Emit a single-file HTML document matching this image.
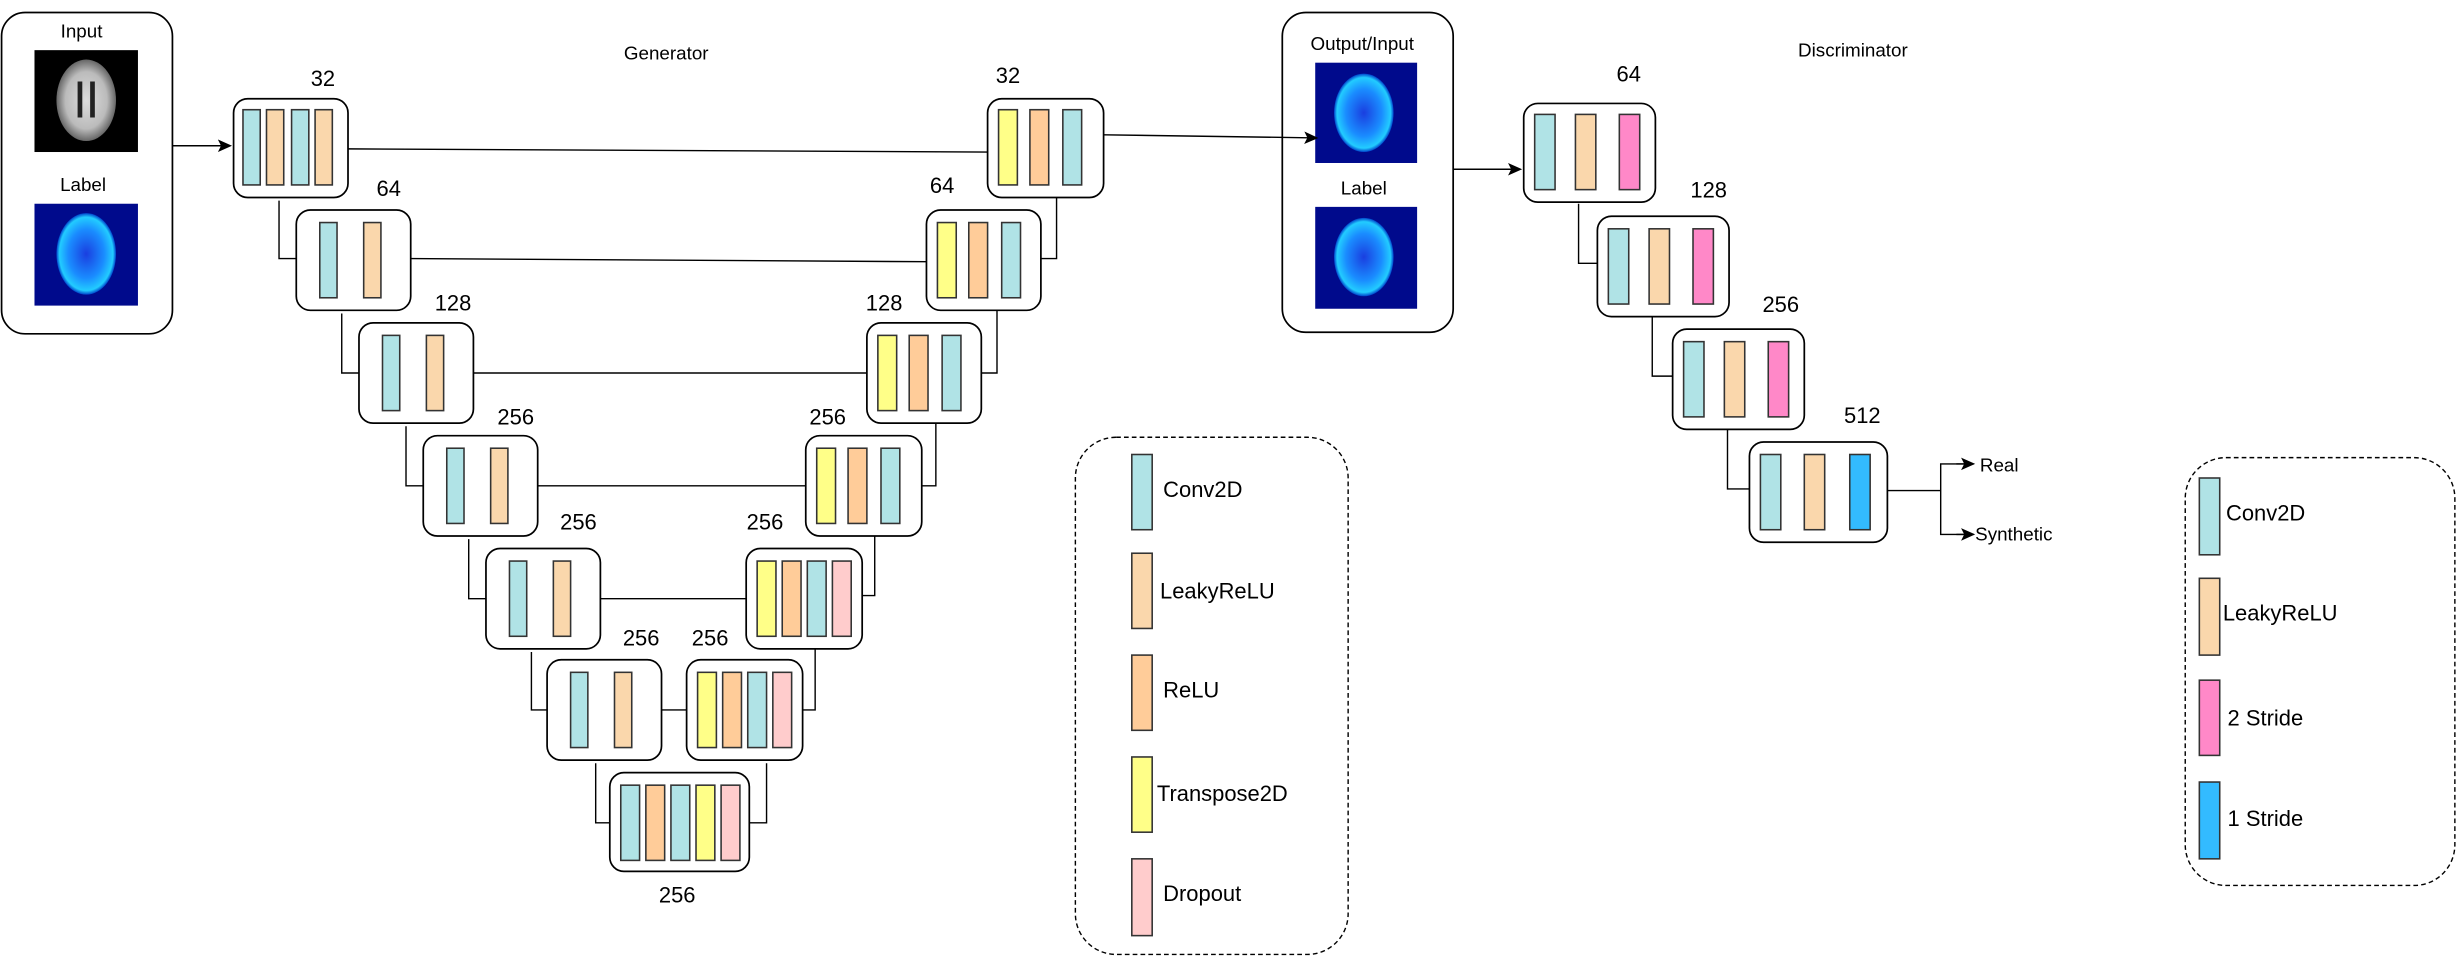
<!DOCTYPE html>
<html><head><meta charset="utf-8"><style>
html,body{margin:0;padding:0;background:#fff;}
svg{display:block;}
text{font-family:"Liberation Sans",Arial,sans-serif;fill:#000;}
.bx{fill:#fff;stroke:#000;stroke-width:1.1;}
.ln{fill:none;stroke:#000;stroke-width:0.9;}
.b{stroke:#333;stroke-width:1;}
.t{fill:#b0e3e6}.p{fill:#fad7ac}.o{fill:#ffcc99}.y{fill:#ffff88}.d{fill:#ffcccc}.k{fill:#ff88c8}.s{fill:#33bbff}
</style></head><body>
<svg width="2458" height="956" viewBox="0 0 1568 610" preserveAspectRatio="none">
<defs>
<radialGradient id="gw" cx="50%" cy="50%" r="50%"><stop offset="0" stop-color="#ddd"/><stop offset="0.7" stop-color="#bbb"/><stop offset="1" stop-color="#666"/></radialGradient>
<radialGradient id="gb" cx="50%" cy="50%" r="50%"><stop offset="0" stop-color="#1a3fe0"/><stop offset="0.6" stop-color="#1a8cff"/><stop offset="0.9" stop-color="#22ccff"/><stop offset="1" stop-color="#0044cc"/></radialGradient>
<marker id="ar" markerWidth="10" markerHeight="10" refX="8" refY="4" orient="auto" markerUnits="userSpaceOnUse"><path d="M0,0 L9,4 L0,8 L2,4 Z" fill="#000"/></marker>
</defs>

<!-- Input box -->
<rect class="bx" x="1" y="8" width="109" height="205" rx="15"/>
<text x="52" y="24" font-size="12" text-anchor="middle">Input</text>
<rect x="22" y="32" width="66" height="65" fill="#000"/>
<ellipse cx="55" cy="64" rx="19" ry="26" fill="url(#gw)"/>
<path d="M51,52 L51,75 M59,52 L59,75" stroke="#222" stroke-width="3"/>
<text x="53" y="122" font-size="12" text-anchor="middle">Label</text>
<rect x="22" y="130" width="66" height="65" fill="#000a8c"/>
<ellipse cx="55" cy="162" rx="19" ry="26" fill="url(#gb)"/>
<line class="ln" x1="110" y1="93" x2="147" y2="93" marker-end="url(#ar)"/>

<text x="425" y="38" font-size="12" text-anchor="middle">Generator</text>
<text x="1182" y="36" font-size="12" text-anchor="middle">Discriminator</text>

<!-- skip lines -->
<line class="ln" x1="222" y1="95" x2="630" y2="97"/>
<line class="ln" x1="262" y1="165" x2="591" y2="167"/>
<line class="ln" x1="302" y1="238" x2="553" y2="238"/>
<line class="ln" x1="343" y1="310" x2="514" y2="310"/>
<line class="ln" x1="383" y1="382" x2="476" y2="382"/>
<line class="ln" x1="422" y1="453" x2="438" y2="453"/>
<!-- encoder elbows -->
<path class="ln" d="M178,128 V165 H189"/>
<path class="ln" d="M218,200 V238 H229"/>
<path class="ln" d="M259,272 V310 H270"/>
<path class="ln" d="M299,344 V382 H310"/>
<path class="ln" d="M339,416 V453 H349"/>
<path class="ln" d="M380,487 V525 H389"/>
<!-- decoder elbows -->
<path class="ln" d="M664,165 H674 V126"/>
<path class="ln" d="M626,238 H636 V198"/>
<path class="ln" d="M588,310 H597 V270"/>
<path class="ln" d="M550,380 H558 V342"/>
<path class="ln" d="M512,453 H520 V414"/>
<path class="ln" d="M478,525 H489 V487"/>

<!-- Encoder -->
<rect class="bx" x="149" y="63" width="73" height="63" rx="9"/>
<rect class="b t" x="155" y="70" width="11" height="48"/><rect class="b p" x="170" y="70" width="11" height="48"/><rect class="b t" x="186" y="70" width="11" height="48"/><rect class="b p" x="201" y="70" width="11" height="48"/>
<text x="206" y="55" font-size="14" text-anchor="middle">32</text>

<rect class="bx" x="189" y="134" width="73" height="64" rx="9"/>
<rect class="b t" x="204" y="142" width="11" height="48"/><rect class="b p" x="232" y="142" width="11" height="48"/>
<text x="248" y="125" font-size="14" text-anchor="middle">64</text>

<rect class="bx" x="229" y="206" width="73" height="64" rx="9"/>
<rect class="b t" x="244" y="214" width="11" height="48"/><rect class="b p" x="272" y="214" width="11" height="48"/>
<text x="289" y="198" font-size="14" text-anchor="middle">128</text>

<rect class="bx" x="270" y="278" width="73" height="64" rx="9"/>
<rect class="b t" x="285" y="286" width="11" height="48"/><rect class="b p" x="313" y="286" width="11" height="48"/>
<text x="329" y="271" font-size="14" text-anchor="middle">256</text>

<rect class="bx" x="310" y="350" width="73" height="64" rx="9"/>
<rect class="b t" x="325" y="358" width="11" height="48"/><rect class="b p" x="353" y="358" width="11" height="48"/>
<text x="369" y="338" font-size="14" text-anchor="middle">256</text>

<rect class="bx" x="349" y="421" width="73" height="64" rx="9"/>
<rect class="b t" x="364" y="429" width="11" height="48"/><rect class="b p" x="392" y="429" width="11" height="48"/>
<text x="409" y="412" font-size="14" text-anchor="middle">256</text>

<!-- bottleneck -->
<rect class="bx" x="389" y="493" width="89" height="63" rx="9"/>
<rect class="b t" x="396" y="501" width="12" height="48"/><rect class="b o" x="412" y="501" width="12" height="48"/><rect class="b t" x="428" y="501" width="12" height="48"/><rect class="b y" x="444" y="501" width="12" height="48"/><rect class="b d" x="460" y="501" width="12" height="48"/>
<text x="432" y="576" font-size="14" text-anchor="middle">256</text>

<!-- Decoder -->
<rect class="bx" x="630" y="63" width="74" height="63" rx="9"/>
<rect class="b y" x="637" y="70" width="12" height="48"/><rect class="b o" x="657" y="70" width="12" height="48"/><rect class="b t" x="678" y="70" width="12" height="48"/>
<text x="643" y="53" font-size="14" text-anchor="middle">32</text>

<rect class="bx" x="591" y="134" width="73" height="64" rx="9"/>
<rect class="b y" x="598" y="142" width="12" height="48"/><rect class="b o" x="618" y="142" width="12" height="48"/><rect class="b t" x="639" y="142" width="12" height="48"/>
<text x="601" y="123" font-size="14" text-anchor="middle">64</text>

<rect class="bx" x="553" y="206" width="73" height="64" rx="9"/>
<rect class="b y" x="560" y="214" width="12" height="48"/><rect class="b o" x="580" y="214" width="12" height="48"/><rect class="b t" x="601" y="214" width="12" height="48"/>
<text x="564" y="198" font-size="14" text-anchor="middle">128</text>

<rect class="bx" x="514" y="278" width="74" height="64" rx="9"/>
<rect class="b y" x="521" y="286" width="12" height="48"/><rect class="b o" x="541" y="286" width="12" height="48"/><rect class="b t" x="562" y="286" width="12" height="48"/>
<text x="528" y="271" font-size="14" text-anchor="middle">256</text>

<rect class="bx" x="476" y="350" width="74" height="64" rx="9"/>
<rect class="b y" x="483" y="358" width="12" height="48"/><rect class="b o" x="499" y="358" width="12" height="48"/><rect class="b t" x="515" y="358" width="12" height="48"/><rect class="b d" x="531" y="358" width="12" height="48"/>
<text x="488" y="338" font-size="14" text-anchor="middle">256</text>

<rect class="bx" x="438" y="421" width="74" height="64" rx="9"/>
<rect class="b y" x="445" y="429" width="12" height="48"/><rect class="b o" x="461" y="429" width="12" height="48"/><rect class="b t" x="477" y="429" width="12" height="48"/><rect class="b d" x="493" y="429" width="12" height="48"/>
<text x="453" y="412" font-size="14" text-anchor="middle">256</text>

<!-- Legend 1 -->
<rect x="686" y="279" width="174" height="330" rx="26" fill="none" stroke="#000" stroke-width="0.9" stroke-dasharray="3,2"/>
<rect class="b t" x="722" y="290" width="13" height="48"/><text x="742" y="317" font-size="14">Conv2D</text>
<rect class="b p" x="722" y="353" width="13" height="48"/><text x="740" y="382" font-size="14">LeakyReLU</text>
<rect class="b o" x="722" y="418" width="13" height="48"/><text x="742" y="445" font-size="14">ReLU</text>
<rect class="b y" x="722" y="483" width="13" height="48"/><text x="738" y="511" font-size="14">Transpose2D</text>
<rect class="b d" x="722" y="548" width="13" height="49"/><text x="742" y="575" font-size="14">Dropout</text>

<!-- Output/Input -->
<rect class="bx" x="818" y="8" width="109" height="204" rx="15"/>
<text x="869" y="32" font-size="12" text-anchor="middle">Output/Input</text>
<rect x="839" y="40" width="65" height="64" fill="#000a8c"/>
<ellipse cx="870" cy="72" rx="19" ry="25" fill="url(#gb)"/>
<text x="870" y="124" font-size="12" text-anchor="middle">Label</text>
<rect x="839" y="132" width="65" height="65" fill="#000a8c"/>
<ellipse cx="870" cy="164" rx="19" ry="25" fill="url(#gb)"/>
<line class="ln" x1="704" y1="86" x2="840" y2="88" marker-end="url(#ar)"/>
<line class="ln" x1="927" y1="108" x2="970" y2="108" marker-end="url(#ar)"/>

<!-- Discriminator -->
<path class="ln" d="M1007,130 V168 H1019"/>
<path class="ln" d="M1054,202 V240 H1067"/>
<path class="ln" d="M1102,274 V312 H1116"/>
<rect class="bx" x="972" y="66" width="84" height="63" rx="9"/>
<rect class="b t" x="979" y="73" width="13" height="48"/><rect class="b p" x="1005" y="73" width="13" height="48"/><rect class="b k" x="1033" y="73" width="13" height="48"/>
<text x="1039" y="52" font-size="14" text-anchor="middle">64</text>
<rect class="bx" x="1019" y="138" width="84" height="64" rx="9"/>
<rect class="b t" x="1026" y="146" width="13" height="48"/><rect class="b p" x="1052" y="146" width="13" height="48"/><rect class="b k" x="1080" y="146" width="13" height="48"/>
<text x="1090" y="126" font-size="14" text-anchor="middle">128</text>
<rect class="bx" x="1067" y="210" width="84" height="64" rx="9"/>
<rect class="b t" x="1074" y="218" width="13" height="48"/><rect class="b p" x="1100" y="218" width="13" height="48"/><rect class="b k" x="1128" y="218" width="13" height="48"/>
<text x="1136" y="199" font-size="14" text-anchor="middle">256</text>
<rect class="bx" x="1116" y="282" width="88" height="64" rx="9"/>
<rect class="b t" x="1123" y="290" width="13" height="48"/><rect class="b p" x="1151" y="290" width="13" height="48"/><rect class="b s" x="1180" y="290" width="13" height="48"/>
<text x="1188" y="270" font-size="14" text-anchor="middle">512</text>
<path class="ln" d="M1204,313 H1238"/>
<path class="ln" d="M1257,296 H1238 V341 H1257"/>
<line class="ln" x1="1248" y1="296" x2="1259" y2="296" marker-end="url(#ar)"/>
<line class="ln" x1="1248" y1="341" x2="1259" y2="341" marker-end="url(#ar)"/>
<text x="1263" y="301" font-size="12">Real</text>
<text x="1260" y="345" font-size="12">Synthetic</text>

<!-- Legend 2 -->
<rect x="1394" y="292" width="172" height="273" rx="26" fill="none" stroke="#000" stroke-width="0.9" stroke-dasharray="3,2"/>
<rect class="b t" x="1403" y="305" width="13" height="49"/><text x="1420" y="332" font-size="14">Conv2D</text>
<rect class="b p" x="1403" y="369" width="13" height="49"/><text x="1418" y="396" font-size="14">LeakyReLU</text>
<rect class="b k" x="1403" y="434" width="13" height="48"/><text x="1421" y="463" font-size="14">2 Stride</text>
<rect class="b s" x="1403" y="499" width="13" height="49"/><text x="1421" y="527" font-size="14">1 Stride</text>
</svg>
</body></html>
